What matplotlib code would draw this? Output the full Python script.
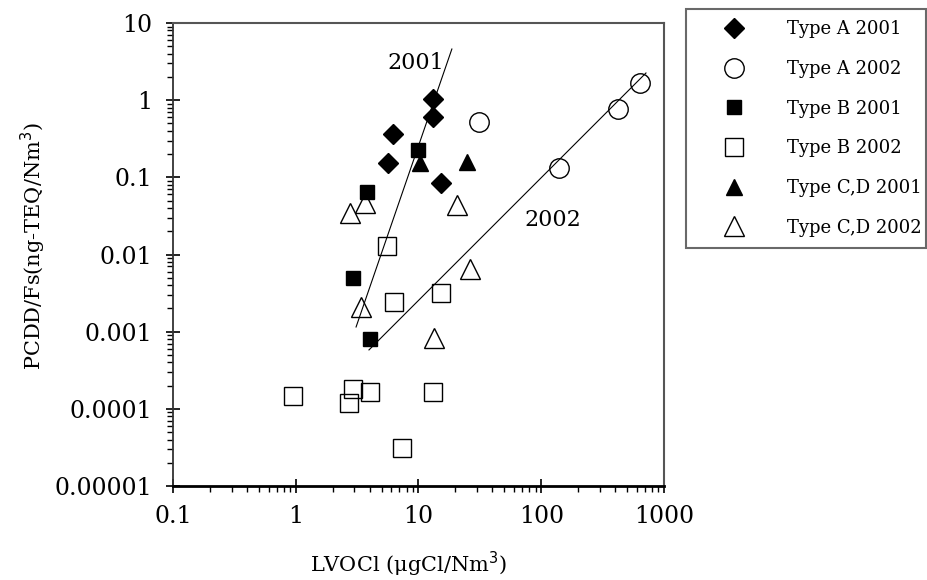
import numpy as np
import matplotlib
matplotlib.use('Agg')
import matplotlib.pyplot as plt
from matplotlib.ticker import LogLocator, FixedFormatter, FixedLocator, NullFormatter

# data
a01_x = [13.1, 13.1, 6.2, 5.65, 15.2]
a01_y = [1.04, 0.605, 0.365, 0.153, 0.0845]
a02_x = [31.1, 140, 422, 637]
a02_y = [0.52, 0.132, 0.77, 1.67]
b01_x = [9.9, 3.8, 2.93, 4.03]
b01_y = [0.226, 0.0646, 0.00496, 0.0008]
b02_x = [5.54, 6.31, 15.2, 0.95, 2.93, 4.03, 2.72, 13.1, 7.34]
b02_y = [0.0129, 0.00243, 0.00317, 0.000147, 0.000181, 0.000165, 0.000119, 0.000165, 0.0000311]
cd01_x = [10.3, 24.8]
cd01_y = [0.153, 0.158]
cd02_x = [3.66, 2.77, 20.6, 26.3, 3.40, 13.4]
cd02_y = [0.0465, 0.0345, 0.0438, 0.00649, 0.00209, 0.00083]

# regression lines (end points)
fit01_x = [3.1, 18.7]
fit01_y = [0.00115, 4.6]
fit02_x = [3.95, 713]
fit02_y = [0.00058, 2.25]
fit_labels = ['2001', '2002']
fit_label_x = [9.54, 124.6]
fit_label_y = [3.03, 0.028]

ytick_vals = [1e-5, 1e-4, 1e-3, 1e-2, 0.1, 1, 10]
ytick_labels = ['0.00001', '0.0001', '0.001', '0.01', '0.1', '1', '10']
xtick_vals = [0.1, 1, 10, 100, 1000]
xtick_labels = ['0.1', '1', '10', '100', '1000']

plt.rcParams['font.family'] = ['DejaVu Serif']

fig = plt.figure(figsize=(9.28, 5.8), dpi=100)
ax = fig.add_axes([173/928, 1 - 486/580, 491/928, 463/580])

ax.plot(fit01_x, fit01_y, color='black', lw=0.8, zorder=2)
ax.plot(fit02_x, fit02_y, color='black', lw=0.8, zorder=2)

ax.plot(a01_x, a01_y, 'D', ms=10, color='black', ls='none', label='Type A 2001', zorder=3)
ax.plot(a02_x, a02_y, 'o', ms=14, mfc='none', mec='black', mew=1.0, ls='none', label='Type A 2002', zorder=3)
ax.plot(b01_x, b01_y, 's', ms=10.5, color='black', ls='none', label='Type B 2001', zorder=3)
ax.plot(b02_x, b02_y, 's', ms=13, mfc='none', mec='black', mew=1.0, ls='none', label='Type B 2002', zorder=3)
ax.plot(cd01_x, cd01_y, '^', ms=11, color='black', ls='none', label='Type C,D 2001', zorder=3)
ax.plot(cd02_x, cd02_y, '^', ms=14, mfc='none', mec='black', mew=1.0, ls='none', label='Type C,D 2002', zorder=3)

for t, x, y in zip(fit_labels, fit_label_x, fit_label_y):
    ax.text(x, y, t, fontsize=16, ha='center', va='center')

ax.set_xscale('log')
ax.set_yscale('log')
ax.set_xlim(0.1, 1000)
ax.set_ylim(1e-5, 10)

ax.xaxis.set_major_locator(FixedLocator(xtick_vals))
ax.xaxis.set_major_formatter(FixedFormatter(xtick_labels))
ax.yaxis.set_major_locator(FixedLocator(ytick_vals))
ax.yaxis.set_major_formatter(FixedFormatter(ytick_labels))
ax.xaxis.set_minor_locator(LogLocator(base=10, subs=np.arange(2, 10), numticks=20))
ax.yaxis.set_minor_locator(LogLocator(base=10, subs=np.arange(2, 10), numticks=20))
ax.xaxis.set_minor_formatter(NullFormatter())
ax.yaxis.set_minor_formatter(NullFormatter())

ax.tick_params(which='major', direction='inout', length=10, width=1.2, labelsize=17)
ax.tick_params(axis='x', which='major', pad=9)
ax.tick_params(axis='y', which='major', pad=10)
ax.tick_params(which='minor', direction='out', length=4.5, width=1.0)

for s in ['top', 'right']:
    ax.spines[s].set_color('#555555')
    ax.spines[s].set_linewidth(1.5)
ax.spines['left'].set_color('#333333')
ax.spines['left'].set_linewidth(1.3)
ax.spines['bottom'].set_color('black')
ax.spines['bottom'].set_linewidth(2)

ax.set_xlabel('LVOCl (μgCl/Nm$^3$)', fontsize=15)
ax.set_ylabel('PCDD/Fs(ng-TEQ/Nm$^3$)', fontsize=15)
ax.xaxis.set_label_coords(0.479, -0.137)
ax.yaxis.set_label_coords(-0.255, 0.518)

leg = fig.legend(loc='upper left', bbox_to_anchor=(686/928, 1 - 9/580, 240/928, 0),
                 mode='expand', fontsize=13, frameon=True, fancybox=False,
                 edgecolor='#444444', labelspacing=1.2, handlelength=4.1,
                 handletextpad=0.9, borderpad=0.62, borderaxespad=0)
leg.get_frame().set_linewidth(1.5)

fig.savefig('out.png', dpi=100)
